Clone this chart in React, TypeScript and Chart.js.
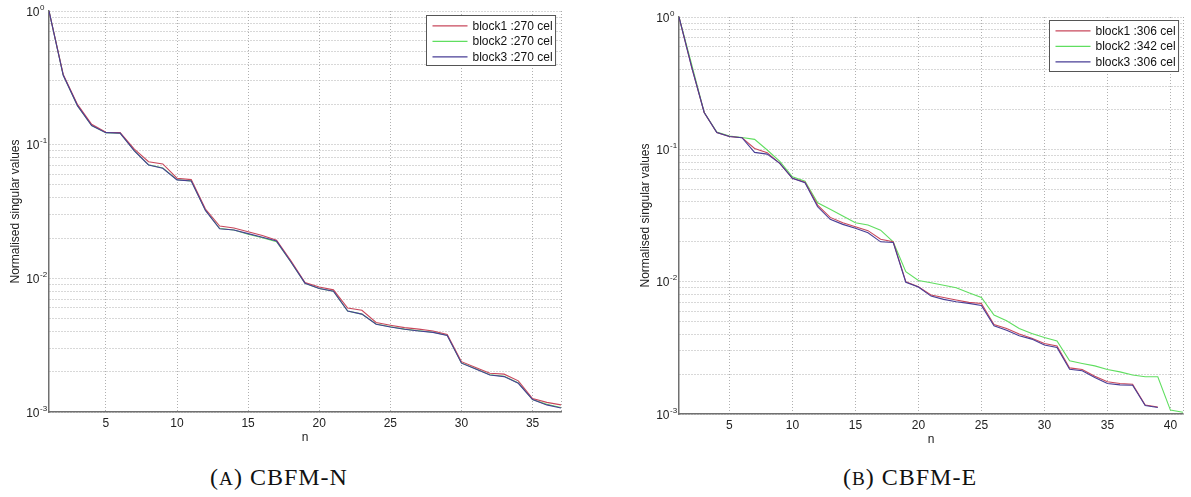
import React, { useEffect, useRef } from "react";
import { Chart, registerables } from "chart.js";
Chart.register(...registerables);

// ---------- data ----------
const leftN = [1,2,3,4,5,6,7,8,9,10,11,12,13,14,15,16,17,18,19,20,21,22,23,24,25,26,27,28,29,30,31,32,33,34,35,36,37];
const leftBlock1 = [1.0,0.335,0.200,0.142,0.124,0.123,0.0925,0.0746,0.0718,0.0561,0.0548,0.0330,0.0246,0.0238,0.0223,0.0209,0.0193,0.0136,0.0093,0.0086,0.0082,0.0060,0.00577,0.00467,0.00446,0.00428,0.00417,0.00404,0.00380,0.00238,0.00215,0.00195,0.00192,0.00171,0.00126,0.00118,0.00113];
const leftBlock2 = [1.0,0.331,0.196,0.139,0.123,0.122,0.0902,0.0707,0.0668,0.0546,0.0536,0.0323,0.0236,0.0230,0.0214,0.0201,0.0188,0.0133,0.0092,0.0084,0.0080,0.0057,0.0054,0.00455,0.00434,0.00417,0.00405,0.00395,0.00375,0.00233,0.00211,0.00190,0.00185,0.00165,0.00124,0.00114,0.00108];
const leftBlock3 = [1.0,0.330,0.196,0.139,0.123,0.122,0.0900,0.0705,0.0666,0.0545,0.0535,0.0322,0.0235,0.0230,0.0216,0.0203,0.0190,0.0133,0.0092,0.0084,0.0080,0.0057,0.0054,0.00454,0.00433,0.00416,0.00404,0.00394,0.00374,0.00232,0.00210,0.00189,0.00184,0.00164,0.00124,0.00113,0.00107];

const rightN13 = [1,2,3,4,5,6,7,8,9,10,11,12,13,14,15,16,17,18,19,20,21,22,23,24,25,26,27,28,29,30,31,32,33,34,35,36,37,38,39];
const rightN2 = [1,2,3,4,5,6,7,8,9,10,11,12,13,14,15,16,17,18,19,20,21,22,23,24,25,26,27,28,29,30,31,32,33,34,35,36,37,38,39,40,41];
const rightBlock1 = [1.0,0.42,0.19,0.134,0.125,0.1225,0.1016,0.0944,0.0784,0.0604,0.0565,0.0379,0.0306,0.0279,0.0260,0.0243,0.0209,0.0200,0.0100,0.00916,0.00792,0.0076,0.00726,0.00697,0.00685,0.00475,0.00443,0.00402,0.00373,0.00341,0.00326,0.00223,0.00217,0.00193,0.00175,0.00170,0.00168,0.00117,0.00113];
const rightBlock2 = [1.0,0.44,0.19,0.135,0.126,0.123,0.119,0.0988,0.081,0.062,0.0575,0.0395,0.0352,0.0313,0.0279,0.0268,0.0245,0.0200,0.0119,0.0102,0.0098,0.0094,0.0090,0.00824,0.0076,0.0056,0.00507,0.00443,0.00406,0.00379,0.00357,0.00252,0.00241,0.00231,0.00217,0.00208,0.00197,0.00191,0.00191,0.00107,0.00103];
const rightBlock3 = [1.0,0.42,0.19,0.134,0.125,0.1225,0.0948,0.0920,0.0784,0.0604,0.0560,0.0368,0.0296,0.0271,0.0253,0.0234,0.0200,0.0198,0.0099,0.0091,0.00778,0.00735,0.00705,0.00685,0.0066,0.00464,0.0043,0.0039,0.00368,0.00332,0.00318,0.00218,0.00212,0.00189,0.00170,0.00166,0.00165,0.00116,0.00112];

const yTickValues = [0.001,0.002,0.003,0.004,0.005,0.006,0.007,0.008,0.009,0.01,0.02,0.03,0.04,0.05,0.06,0.07,0.08,0.09,0.1,0.2,0.3,0.4,0.5,0.6,0.7,0.8,0.9,1];
const yDecades = [1, 0.1, 0.01, 0.001];
const yExponents = ["0", "-1", "-2", "-3"];
const leftXTicks = [5,10,15,20,25,30,35];
const rightXTicks = [5,10,15,20,25,30,35,40];
const leftLegendLabels = ["block1 :270 cel", "block2 :270 cel", "block3 :270 cel"];
const rightLegendLabels = ["block1 :306 cel", "block2 :342 cel", "block3 :306 cel"];
const yTitle = "Normalised singular values";
const xTitle = "n";

const seriesColors = ["rgb(200,72,92)", "rgb(96,222,96)", "rgb(72,62,150)"];
const FONT = '"Liberation Sans", Arial, sans-serif';

// ---------- plugins ----------
const decadeLabels = {
  id: "decadeLabels",
  afterDraw(chart: any) {
    const ctx = chart.ctx;
    const ys = chart.scales.y;
    const left = chart.chartArea.left;
    ctx.save();
    ctx.fillStyle = "#222";
    ctx.textBaseline = "alphabetic";
    yDecades.forEach((v, i) => {
      const y = ys.getPixelForValue(v);
      ctx.font = `12px ${FONT}`;
      ctx.textAlign = "right";
      ctx.fillText("10", left - 9.5, y + 4.5);
      ctx.font = `8px ${FONT}`;
      ctx.textAlign = "left";
      ctx.fillText(yExponents[i], left - 9, y - 1.5);
    });
    ctx.restore();
  },
};

const frame = {
  id: "frame",
  beforeDatasetsDraw(chart: any) {
    const { ctx, chartArea } = chart;
    ctx.save();
    ctx.strokeStyle = "#aaa";
    ctx.lineWidth = 1;
    ctx.setLineDash([1, 2]);
    ctx.beginPath();
    ctx.moveTo(Math.round(chartArea.right) + 0.5, chartArea.top);
    ctx.lineTo(Math.round(chartArea.right) + 0.5, chartArea.bottom);
    ctx.stroke();
    ctx.restore();
  },
};

const insideLegend = {
  id: "insideLegend",
  afterDatasetsDraw(chart: any, _args: any, opts: any) {
    const { ctx, chartArea } = chart;
    const labels: string[] = opts.labels;
    ctx.save();
    ctx.font = `12px ${FONT}`;
    const tw = Math.max(...labels.map((l) => ctx.measureText(l).width));
    const lineLen = 35;
    const w = 6 + lineLen + 5 + tw + 3;
    const h = opts.height;
    const x0 = Math.round(chartArea.right - opts.right - w) + 0.5;
    const y0 = Math.round(chartArea.top + opts.top) + 0.5;
    ctx.fillStyle = "#fff";
    ctx.fillRect(x0, y0, w, h);
    ctx.strokeStyle = "#555";
    ctx.lineWidth = 1;
    ctx.strokeRect(x0, y0, w, h);
    labels.forEach((l, i) => {
      const cy = y0 + 10.3 + i * 15.5;
      ctx.strokeStyle = seriesColors[i];
      ctx.lineWidth = 1.2;
      ctx.beginPath();
      ctx.moveTo(x0 + 6, cy);
      ctx.lineTo(x0 + 6 + lineLen, cy);
      ctx.stroke();
      ctx.fillStyle = "#111";
      ctx.textAlign = "left";
      ctx.textBaseline = "middle";
      ctx.fillText(l, x0 + 6 + lineLen + 5, cy + 0.5);
    });
    ctx.restore();
  },
};

type PanelProps = {
  width: number;
  height: number;
  padTop: number;
  padRight: number;
  xAxisHeight: number;
  xMax: number;
  xTicks: number[];
  xTitlePad: number;
  series: { n: number[]; v: number[] }[];
  legendLabels: string[];
  legendRight: number;
  legendTop: number;
  legendHeight: number;
};

function Panel(p: PanelProps) {
  const ref = useRef<HTMLCanvasElement | null>(null);
  useEffect(() => {
    if (!ref.current) return;
    const orders = [1, 2, 0];
    const datasets = p.series.map((s, i) => ({
      label: p.legendLabels[i],
      data: s.n.map((n, k) => ({ x: n, y: s.v[k] })),
      borderColor: seriesColors[i],
      backgroundColor: seriesColors[i],
      borderWidth: 1.1,
      pointRadius: 0,
      tension: 0,
      order: orders[i],
    }));
    const grid = { color: "#b0b0b0", lineWidth: 1, drawTicks: false };
    const chart = new Chart(ref.current, {
      type: "line",
      data: { datasets },
      options: {
        responsive: false,
        animation: false,
        layout: { padding: { top: p.padTop, right: p.padRight, left: 0, bottom: 0 } },
        plugins: {
          legend: { display: false },
          tooltip: { enabled: false },
          insideLegend: {
            labels: p.legendLabels,
            right: p.legendRight,
            top: p.legendTop,
            height: p.legendHeight,
          },
        } as any,
        scales: {
          x: {
            type: "linear",
            min: 1,
            max: p.xMax,
            grid,
            border: { display: true, color: "#707070", width: 1.5, dash: [1, 2] },
            ticks: {
              color: "#222",
              font: { family: FONT, size: 12 },
              padding: 4,
              maxRotation: 0,
              autoSkip: false,
              callback: (v: any) => String(v),
            },
            afterBuildTicks: (scale: any) => {
              scale.ticks = p.xTicks.map((v) => ({ value: v }));
            },
            afterFit: (scale: any) => {
              scale.height = p.xAxisHeight;
            },
            title: {
              display: true,
              text: xTitle,
              color: "#222",
              font: { family: FONT, size: 12 },
              padding: { top: 0, bottom: p.xTitlePad },
            },
          },
          y: {
            type: "logarithmic",
            min: 0.001,
            max: 1,
            grid,
            border: { display: true, color: "#707070", width: 1.5, dash: [1, 2] },
            ticks: { display: false, autoSkip: false },
            afterBuildTicks: (scale: any) => {
              scale.ticks = yTickValues.map((v) => ({ value: v }));
            },
            afterFit: (scale: any) => {
              scale.width = 49;
            },
            title: {
              display: true,
              text: yTitle,
              color: "#222",
              font: { family: FONT, size: 12 },
              padding: { top: 8, bottom: 0 },
            },
          },
        },
      } as any,
      plugins: [frame, decadeLabels, insideLegend],
    });
    return () => chart.destroy();
  }, []);
  return <canvas ref={ref} width={p.width} height={p.height} style={{ width: p.width, height: p.height, display: "block" }} />;
}

const captionStyle: React.CSSProperties = {
  position: "absolute",
  top: 465,
  width: 300,
  textAlign: "center",
  fontFamily: '"Liberation Serif", "Times New Roman", serif',
  fontSize: 24,
  lineHeight: "24px",
  letterSpacing: "1px",
  color: "#111",
};

export default function App() {
  useEffect(() => {
    document.body.style.margin = "0";
  }, []);
  return (
    <div style={{ position: "absolute", left: 0, top: 0, width: 1191, height: 497, background: "#fff", overflow: "hidden" }}>
      <div style={{ position: "absolute", left: 0, top: 0 }}>
        <Panel
          width={580}
          height={460}
          padTop={11}
          padRight={19}
          xAxisHeight={48}
          xMax={37}
          xTicks={leftXTicks}
          xTitlePad={15}
          series={[
            { n: leftN, v: leftBlock1 },
            { n: leftN, v: leftBlock2 },
            { n: leftN, v: leftBlock3 },
          ]}
          legendLabels={leftLegendLabels}
          legendRight={6}
          legendTop={4}
          legendHeight={50}
        />
      </div>
      <div style={{ position: "absolute", left: 630, top: 0 }}>
        <Panel
          width={561}
          height={460}
          padTop={17}
          padRight={8}
          xAxisHeight={46}
          xMax={41}
          xTicks={rightXTicks}
          xTitlePad={13}
          series={[
            { n: rightN13, v: rightBlock1 },
            { n: rightN2, v: rightBlock2 },
            { n: rightN13, v: rightBlock3 },
          ]}
          legendLabels={rightLegendLabels}
          legendRight={5}
          legendTop={3}
          legendHeight={51}
        />
      </div>
      <div style={{ ...captionStyle, left: 129 }}>
        (<span style={{ fontSize: "0.8em" }}>A</span>) CBFM-N
      </div>
      <div style={{ ...captionStyle, left: 760 }}>
        (<span style={{ fontSize: "0.8em" }}>B</span>) CBFM-E
      </div>
    </div>
  );
}
